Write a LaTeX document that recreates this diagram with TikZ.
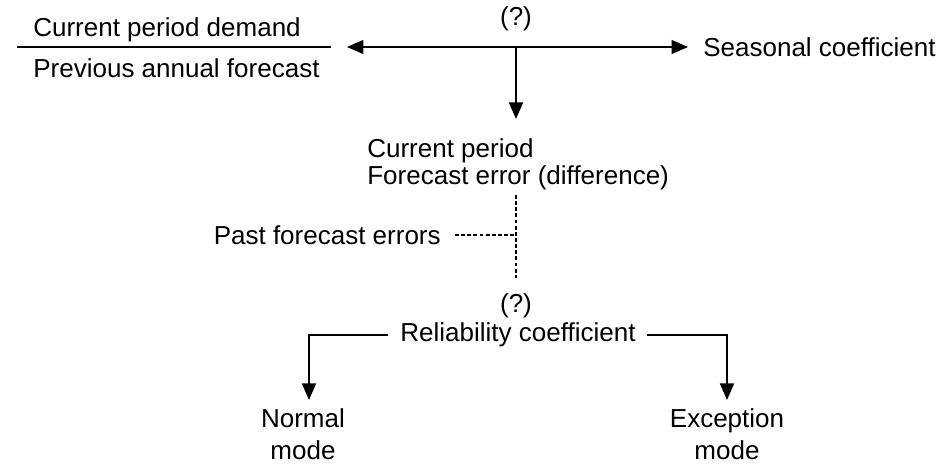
\documentclass[tikz,border=0pt]{standalone}
\usepackage{fontspec}
\setmainfont{Liberation Sans}
\usetikzlibrary{arrows.meta}
\tikzstyle{plainText}=[inner sep = 0pt, font = \fontsize{14.8}{15.5}\selectfont]
\tikzstyle{flowLine}=[line width = 0.7pt]

\begin{document}
\begin{tikzpicture}[x = 0.02cm, y = 0.02cm]
\tikzstyle{tipStyle}=[-{Triangle[length = 3.3mm, width = 2.8mm]}]
\tikzstyle{dashStyle}=[line width = 0.7pt, dash pattern = on 2.2pt off 1.3pt]
\useasboundingbox (0,0) rectangle (944,469);
\node[plainText, anchor = west] (curDemand) at (33,439) {Current period demand};
\node[plainText, anchor = west] (prevForecast) at (33,401) {Previous annual forecast};
\coordinate (barLeft) at (17,422);
\coordinate (barRight) at (331,422);
\node[plainText] (quesTop) at (516,450) {(?)};
\coordinate (hub) at (516,422);
\coordinate (leftTip) at (347,422);
\coordinate (downTip) at (516,350);
\node[plainText, anchor = west] (seasonal) at (703,422) {Seasonal coefficient};
\node[plainText, anchor = west, align = left] (curError) at (367,305) {Current period\\Forecast error (difference)};
\coordinate (dashTop) at (516,274);
\coordinate (dashMid) at (516,234);
\coordinate (dashBot) at (516,191);
\node[plainText, anchor = east] (pastErrors) at (441,234) {Past forecast errors};
\node[plainText] (quesLow) at (516,163) {(?)};
\node[plainText] (reliability) at (518,134) {Reliability coefficient};
\coordinate (normalTip) at (309,69);
\coordinate (exceptTip) at (727,69);
\node[plainText, align = center] (normalMode) at (303,35) {Normal\\[3pt]mode};
\node[plainText, align = center] (exceptMode) at (727,35) {Exception\\[3pt]mode};
% top part
\draw[flowLine] (barLeft) -- (barRight);
\draw[flowLine, tipStyle] (hub) -- (leftTip);
\draw[flowLine, tipStyle, shorten > = 0.3cm] (hub) -- (seasonal.west);
\draw[flowLine, tipStyle] (hub) -- (downTip);
% past errors
\draw[dashStyle] (dashTop) -- (dashBot);
\draw[dashStyle, shorten < = 0.28cm] (pastErrors.east) -- (dashMid);
% reliability branches
\draw[flowLine, tipStyle, shorten < = 0.24cm] (reliability.west) -| (normalTip);
\draw[flowLine, tipStyle, shorten < = 0.22cm] (reliability.east) -| (exceptTip);
\end{tikzpicture}
\end{document}
